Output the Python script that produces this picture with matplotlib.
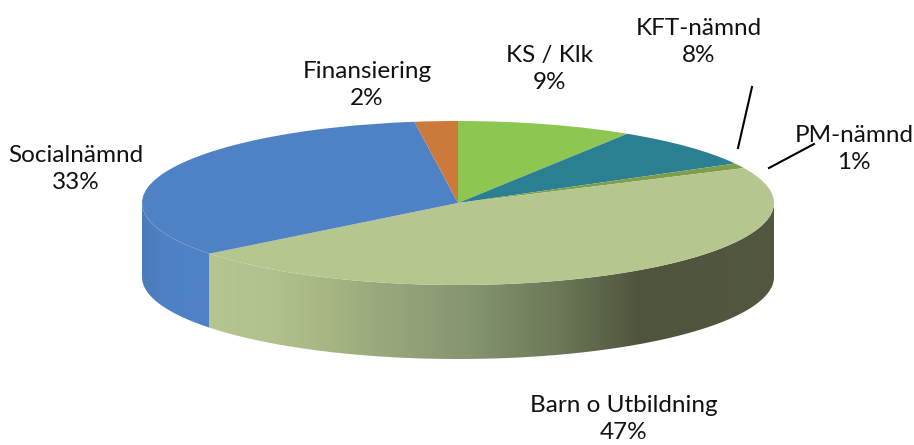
import numpy as np
import matplotlib
matplotlib.use("Agg")
import matplotlib.pyplot as plt
from matplotlib.colors import LinearSegmentedColormap
from matplotlib.patches import Polygon

# data, clockwise from 12 o'clock (slice shares)
categories = ["KS / Klk", "KFT-nämnd", "PM-nämnd", "Barn o Utbildning", "Socialnämnd", "Finansiering"]
values = [9, 8, 1, 46.4, 33.4, 2.2]
percent_labels = ["9%", "8%", "1%", "47%", "33%", "2%"]
colors = ["#8DC650", "#2B7F93", "#7D9F4C", "#B5C68F", "#4F82C5", "#CC7A3C"]

W, H = 914, 445
CX, CY, RX, RY, DEPTH = 458, 203, 316, 82, 74

plt.rcParams["font.family"] = ["Lato", "DejaVu Sans"]
fig = plt.figure(figsize=(W / 100, H / 100), dpi=100)
ax = fig.add_axes([0, 0, 1, 1])


def X(p):
    return (p - CX) / RX


def Y(p):
    return (CY - p) / RY


ax.pie(values, colors=colors, startangle=90, counterclock=False, radius=1,
       wedgeprops=dict(linewidth=0, zorder=5))
ax.set_aspect("auto")

# boundary angles from the values
edges = 90 - 3.6 * np.cumsum(values)
barn_end = edges[3]   # Barn / Social boundary on the front
d = DEPTH / RY


def wall(a0, a1):
    t = np.radians(np.linspace(a0, a1, 200))
    x, y = np.cos(t), np.sin(t)
    return np.r_[np.c_[x, y], np.c_[x, y - d][::-1]]


def shaded(poly, cmap_stops, x0, x1):
    cmap = LinearSegmentedColormap.from_list(
        "s", [((p - x0) / (x1 - x0), c) for p, c in cmap_stops])
    grad = np.linspace(0, 1, 512)[None, :]
    im = ax.imshow(grad, cmap=cmap, aspect="auto", zorder=2,
                   extent=(X(x0), X(x1), Y(370), Y(190)), interpolation="bilinear")
    patch = Polygon(poly, closed=True, transform=ax.transData, fc="none", ec="none")
    ax.add_patch(patch)
    im.set_clip_path(patch)


# blue wall: left edge to the front boundary
shaded(wall(180, 360 + barn_end),
       [(140, "#4B7BBA"), (162, "#4E80C3"), (180, "#4F82C5"), (240, "#4F82C5")], 140, 240)
# Barn wall: front boundary round to the right edge
shaded(wall(barn_end, 0),
       [(200, "#B6C690"), (270, "#B2C28C"), (330, "#A6B582"), (400, "#95A47A"),
        (470, "#859570"), (560, "#6C7857"), (640, "#4E553C"), (780, "#53573F")],
       200, 780)
ax.set_xlim(X(0), X(W))
ax.set_ylim(Y(H), Y(0))

# labels
pos = [(550, 69), (699, 42), (854, 149), (624, 419), (76, 169), (367, 85)]
for name, pct, (px, py) in zip(categories, percent_labels, pos):
    ax.text(X(px), Y(py), f"{name}\n{pct}", ha="center", va="center",
            fontsize=17.5, color="#111111", linespacing=1.33, zorder=8)

# leader lines
ax.plot([X(752), X(738)], [Y(87), Y(148)], color="black", lw=1.5, zorder=7)
ax.plot([X(814), X(769)], [Y(144), Y(168)], color="black", lw=1.5, zorder=7)

fig.savefig("out.png", dpi=100, facecolor="white")
